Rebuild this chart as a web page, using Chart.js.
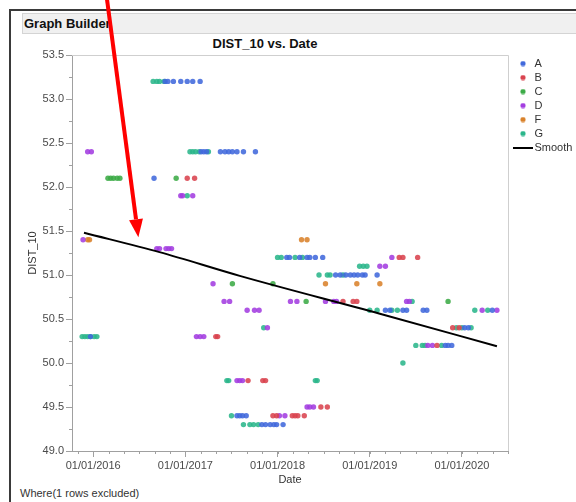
<!DOCTYPE html>
<html>
<head>
<meta charset="utf-8">
<script src="https://cdn.jsdelivr.net/npm/chart.js@4.4.1/dist/chart.umd.min.js"></script>
<style>
  html, body { margin: 0; padding: 0; background: #fff; }
  body { width: 576px; height: 502px; position: relative; overflow: hidden; font-family: "Liberation Sans", Arial, sans-serif; }
  #frame { position: absolute; left: 9px; top: 9px; width: 620px; height: 540px; border-left: 2px solid #3a3a3a; border-top: 2px solid #3a3a3a; }
  #header { position: absolute; left: 22px; top: 13px; width: 600px; height: 19px; background: #f0f0f0; border: 1px solid #d4d4d4; }
  #header span { position: absolute; left: 1px; top: 2px; font-weight: bold; font-size: 13px; color: #111; }
  #title { position: absolute; left: 22px; width: 486px; top: 36px; text-align: center; font-weight: bold; font-size: 13px; color: #111; }
  #where { position: absolute; left: 20px; top: 487px; font-size: 11px; color: #333; }
  #wrap { position: absolute; left: 0; top: 0; width: 576px; height: 502px; }
</style>
</head>
<body>
<div id="frame"></div>
<div id="header"><span>Graph Builder</span></div>
<div id="title">DIST_10 vs. Date</div>
<div id="where">Where(1 rows excluded)</div>
<div id="wrap"><canvas id="chart" width="576" height="502"></canvas></div>
<script>
// points are [date as decimal year, DIST_10]
const groupA = [
  [2016.78, 53.2], [2016.81, 53.2], [2016.87, 53.2], [2016.95, 53.2], [2017.02, 53.2], [2017.08, 53.2], [2017.16, 53.2],
  [2017.17, 52.4], [2017.20, 52.4], [2017.23, 52.4], [2017.38, 52.4], [2017.43, 52.4], [2017.47, 52.4], [2017.51, 52.4], [2017.56, 52.4], [2017.63, 52.4], [2017.76, 52.4],
  [2016.66, 52.1],
  [2018.10, 51.2], [2018.13, 51.2], [2018.24, 51.2], [2018.32, 51.2], [2018.35, 51.2], [2018.41, 51.2], [2018.49, 51.2],
  [2018.63, 51.0], [2018.68, 51.0], [2018.74, 51.0], [2018.79, 51.0], [2018.83, 51.0], [2018.87, 51.0], [2018.92, 51.0], [2018.95, 51.0], [2019.08, 51.0],
  [2019.17, 50.6], [2019.22, 50.6], [2019.36, 50.6], [2019.40, 50.6], [2019.58, 50.6], [2019.62, 50.6], [2020.33, 50.6],
  [2020.03, 50.4], [2020.07, 50.4],
  [2015.97, 50.3],
  [2019.82, 50.2], [2019.85, 50.2], [2019.89, 50.2],
  [2017.56, 49.4], [2017.59, 49.4], [2017.62, 49.4], [2017.66, 49.4],
  [2017.83, 49.3], [2017.87, 49.3], [2017.92, 49.3], [2017.96, 49.3], [2017.99, 49.3], [2018.06, 49.3]
];
const groupB = [
  [2017.02, 52.1], [2017.10, 52.1],
  [2019.32, 51.2], [2019.36, 51.2], [2019.52, 51.2],
  [2018.71, 50.7], [2018.82, 50.7], [2018.86, 50.7],
  [2019.90, 50.4], [2019.97, 50.4],
  [2017.33, 50.3], [2017.35, 50.3],
  [2019.73, 50.2],
  [2017.68, 49.8], [2017.84, 49.8], [2017.87, 49.8],
  [2018.47, 49.5], [2018.54, 49.5],
  [2017.95, 49.4], [2017.99, 49.4], [2018.16, 49.4], [2018.19, 49.4], [2018.22, 49.4], [2018.29, 49.4]
];
const groupC = [
  [2016.16, 52.1], [2016.19, 52.1], [2016.22, 52.1], [2016.26, 52.1], [2016.29, 52.1], [2016.90, 52.1],
  [2017.51, 50.9], [2017.95, 50.9],
  [2018.31, 50.7], [2019.85, 50.7]
];
const groupD = [
  [2015.94, 52.4], [2015.98, 52.4],
  [2016.95, 51.9], [2016.97, 51.9], [2017.08, 51.9],
  [2015.89, 51.4],
  [2016.69, 51.3], [2016.72, 51.3], [2016.79, 51.3], [2016.82, 51.3], [2016.85, 51.3],
  [2019.24, 51.2],
  [2019.11, 51.1], [2019.17, 51.1],
  [2017.30, 50.9],
  [2017.42, 50.7], [2017.48, 50.7], [2018.14, 50.7], [2018.21, 50.7], [2018.52, 50.7], [2018.61, 50.7], [2018.64, 50.7], [2019.40, 50.7], [2019.43, 50.7],
  [2017.67, 50.6], [2017.75, 50.6], [2017.80, 50.6], [2020.22, 50.6], [2020.38, 50.6],
  [2017.89, 50.4],
  [2017.12, 50.3], [2017.16, 50.3], [2017.20, 50.3],
  [2019.63, 50.2], [2019.68, 50.2],
  [2017.56, 49.8], [2017.59, 49.8], [2017.62, 49.8],
  [2018.32, 49.5], [2018.35, 49.5], [2018.39, 49.5],
  [2018.02, 49.4], [2018.08, 49.4]
];
const groupF = [
  [2015.94, 51.4], [2015.96, 51.4], [2018.26, 51.4], [2018.32, 51.4],
  [2018.52, 50.9], [2018.86, 50.9], [2019.11, 50.9]
];
const groupG = [
  [2016.65, 53.2], [2016.69, 53.2], [2016.72, 53.2], [2016.77, 53.2],
  [2017.05, 52.4], [2017.08, 52.4], [2017.11, 52.4], [2017.15, 52.4], [2017.25, 52.4],
  [2017.02, 51.9],
  [2018.00, 51.2], [2018.04, 51.2], [2018.19, 51.2], [2018.27, 51.2],
  [2018.89, 51.1], [2018.93, 51.1], [2018.97, 51.1],
  [2018.45, 51.0], [2018.54, 51.0], [2018.57, 51.0], [2018.71, 51.0],
  [2019.46, 50.7],
  [2019.00, 50.6], [2019.08, 50.6], [2019.24, 50.6], [2019.30, 50.6], [2020.14, 50.6], [2020.28, 50.6],
  [2017.85, 50.4], [2019.94, 50.4], [2020.00, 50.4], [2020.10, 50.4],
  [2015.88, 50.3], [2015.91, 50.3], [2015.94, 50.3], [2015.97, 50.3], [2016.01, 50.3], [2016.04, 50.3],
  [2019.50, 50.2], [2019.57, 50.2], [2019.60, 50.2], [2019.78, 50.2],
  [2019.36, 50.0],
  [2017.45, 49.8], [2017.47, 49.8], [2018.41, 49.8], [2018.43, 49.8],
  [2017.50, 49.4],
  [2017.63, 49.3], [2017.70, 49.3], [2017.74, 49.3], [2017.79, 49.3]
];
const smoothX = [2015.90, 2016.72, 2017.59, 2019.11, 2020.38];
const smoothY = [51.48, 51.26, 50.99, 50.56, 50.19];

const groupNames = ['A', 'B', 'C', 'D', 'F', 'G'];
const groupColors = ['#4169dc', '#d9434f', '#3cab47', '#a33ee0', '#d9822b', '#2bb68b'];
const yTicks = [49.0, 49.5, 50.0, 50.5, 51.0, 51.5, 52.0, 52.5, 53.0, 53.5];
const xTickYears = [2016, 2017, 2018, 2019, 2020];
const xRange = [2015.77, 2020.5];
const yRange = [49.0, 53.5];
// annotation arrow, in data units
const arrowFrom = [2016.15, 54.13];
const arrowTo = [2016.49, 51.43];

const FONT = '"Liberation Sans", Arial, sans-serif';
Chart.defaults.font.family = FONT;
Chart.defaults.font.size = 11;
Chart.defaults.color = '#4a4a4a';

// legend icons: drawn centred on the legend box, shifted 3px right
function dotIcon(color) {
  const c = document.createElement('canvas');
  c.width = 12; c.height = 6;
  const g = c.getContext('2d');
  g.fillStyle = color;
  g.beginPath(); g.arc(9, 3, 2.6, 0, Math.PI * 2); g.fill();
  return c;
}
function lineIcon() {
  const c = document.createElement('canvas');
  c.width = 26; c.height = 2;
  const g = c.getContext('2d');
  g.fillStyle = '#000';
  g.fillRect(6, 0, 20, 2);
  return c;
}

const groups = [groupA, groupB, groupC, groupD, groupF, groupG];
const datasets = groups.map((pts, i) => ({
  type: 'scatter',
  label: groupNames[i],
  data: pts.map(p => ({x: p[0], y: p[1]})),
  backgroundColor: groupColors[i] + 'e0',
  borderWidth: 0,
  pointRadius: 2.7,
  pointHoverRadius: 2.7
}));
datasets.push({
  type: 'line',
  label: 'Smooth',
  data: smoothX.map((x, i) => ({x, y: smoothY[i]})),
  borderColor: '#000',
  borderWidth: 2,
  pointRadius: 0,
  cubicInterpolationMode: 'monotone',
  order: -1
});

// two-month minor ticks on x, quarter ticks on y
const xMinor = [];
for (let m = 0; m <= 28; m++) xMinor.push(2015 + 10 / 12 + m / 6);
const yMinor = [];
for (let v = 49.25; v < 53.5; v += 0.5) yMinor.push(v);

const extras = {
  id: 'extras',
  beforeDatasetsDraw(chart) {
    const {ctx, chartArea: a} = chart;
    ctx.save();
    ctx.strokeStyle = '#cfcfcf';
    ctx.lineWidth = 1;
    ctx.beginPath();
    ctx.moveTo(a.left, a.top + 0.5); ctx.lineTo(a.right + 0.5, a.top + 0.5); ctx.lineTo(a.right + 0.5, a.bottom);
    ctx.stroke();
    ctx.strokeStyle = '#a0a0a0';
    ctx.beginPath();
    const x = chart.scales.x, y = chart.scales.y;
    xMinor.forEach(v => {
      if (v < xRange[0] || v > xRange[1]) return;
      const px = Math.round(x.getPixelForValue(v)) + 0.5;
      ctx.moveTo(px, a.bottom); ctx.lineTo(px, a.bottom + 3);
    });
    yMinor.forEach(v => {
      const py = Math.round(y.getPixelForValue(v)) + 0.5;
      ctx.moveTo(a.left, py); ctx.lineTo(a.left - 3, py);
    });
    ctx.stroke();
    ctx.restore();
  },
  afterDraw(chart) {
    const {ctx} = chart;
    const x = chart.scales.x, y = chart.scales.y;
    const x0 = x.getPixelForValue(arrowFrom[0]), y0 = y.getPixelForValue(arrowFrom[1]);
    const x1 = x.getPixelForValue(arrowTo[0]), y1 = y.getPixelForValue(arrowTo[1]);
    const ang = Math.atan2(y1 - y0, x1 - x0);
    const headLen = 18, headW = 7;
    const bx = x1 - Math.cos(ang) * headLen, by = y1 - Math.sin(ang) * headLen;
    ctx.save();
    ctx.strokeStyle = '#ff0000';
    ctx.fillStyle = '#ff0000';
    ctx.lineWidth = 4;
    ctx.beginPath(); ctx.moveTo(x0, y0); ctx.lineTo(bx, by); ctx.stroke();
    ctx.beginPath();
    ctx.moveTo(x1, y1);
    ctx.lineTo(bx + Math.sin(ang) * headW, by - Math.cos(ang) * headW);
    ctx.lineTo(bx - Math.sin(ang) * headW, by + Math.cos(ang) * headW);
    ctx.closePath(); ctx.fill();
    ctx.restore();
  }
};

new Chart(document.getElementById('chart'), {
  data: { datasets },
  options: {
    responsive: false,
    animation: false,
    layout: { padding: { left: 22, top: 55, bottom: 11, right: -6.4 } },
    plugins: {
      tooltip: { enabled: false },
      legend: {
        position: 'right',
        align: 'start',
        labels: {
          usePointStyle: true,
          pointStyleWidth: 18,
          padding: 3,
          color: '#333',
          font: { size: 11 },
          sort: (a, b) => a.datasetIndex - b.datasetIndex,
          generateLabels: chart => Chart.defaults.plugins.legend.labels.generateLabels(chart).map(item => ({
            ...item,
            pointStyle: item.text === 'Smooth' ? lineIcon() : dotIcon(groupColors[item.datasetIndex])
          }))
        }
      }
    },
    scales: {
      x: {
        type: 'linear',
        min: xRange[0],
        max: xRange[1],
        afterBuildTicks: s => { s.ticks = xTickYears.map(v => ({value: v})); },
        afterFit: s => { s.height = 40; },
        ticks: { callback: v => '01/01/' + v, autoSkip: false, maxRotation: 0, padding: 2, color: '#4a4a4a' },
        grid: { drawOnChartArea: false, tickLength: 6, color: '#a0a0a0' },
        border: { color: '#a0a0a0' },
        title: { display: true, text: 'Date', color: '#333', font: { size: 11 } }
      },
      y: {
        min: yRange[0],
        max: yRange[1],
        afterBuildTicks: s => { s.ticks = yTicks.map(v => ({value: v})); },
        afterFit: s => { s.width = 50; },
        ticks: { callback: v => v.toFixed(1), padding: 2, color: '#4a4a4a' },
        grid: { drawOnChartArea: false, tickLength: 6, color: '#a0a0a0' },
        border: { color: '#a0a0a0' },
        title: { display: true, text: 'DIST_10', color: '#333', font: { size: 11 } }
      }
    }
  },
  plugins: [extras]
});
</script>
</body>
</html>
